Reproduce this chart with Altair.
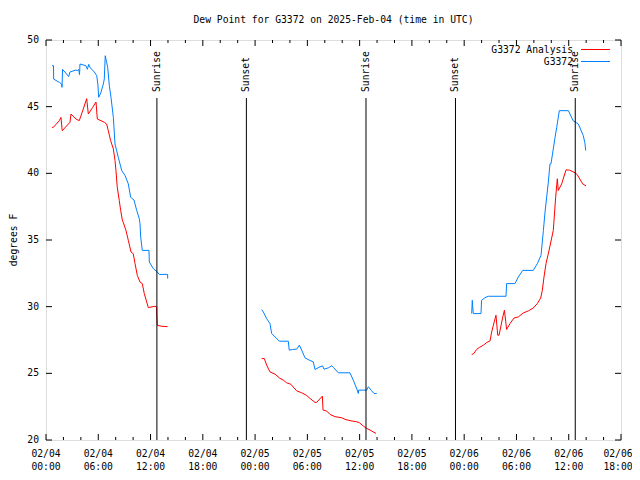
import altair as alt
import pandas as pd

FONT = "DejaVu Sans Mono"
FS = 9.7

# ---- data (hours after 2025-02-04 00:00 UTC, dew point in °F) ----
an1_h = [0.69, 0.84, 1.53, 1.72, 1.84, 1.87, 2.75, 2.87, 3.44, 3.82, 4.28, 4.67, 4.86, 5.36, 5.74, 5.89, 6.31,
         6.69, 6.96, 7.15, 7.42, 7.73, 7.92, 8.03, 8.18, 8.41, 8.57, 8.76, 8.88, 9.18, 9.45, 9.76, 10.02, 10.22,
         10.48, 10.79, 11.05, 11.28, 11.56, 11.74, 12.51, 12.7, 12.72, 12.78, 13.28, 13.96]
an1_v = [43.45, 43.45, 43.95, 44.2, 43.33, 43.2, 43.83, 44.45, 44.07, 43.95, 44.83, 45.6, 44.45, 44.95, 45.35, 44.07, 43.95,
         43.83, 43.7, 43.2, 42.45, 41.83, 40.96, 40.21, 38.96, 37.96, 37.22, 36.5, 36.3, 35.72, 34.97, 34.1, 33.97, 33.23,
         32.35, 31.85, 31.73, 30.98, 30.35, 29.93, 30.03, 29.98, 29.36, 28.6, 28.53, 28.5]

obs1_h = [0.69, 0.86, 0.88, 1.53, 1.8, 1.84, 1.9, 2.37, 2.6, 2.75, 3.44, 3.6, 3.75, 3.85, 3.9, 4.59, 4.75, 4.9, 5.1,
          5.55, 5.82, 5.95, 6.05, 6.31, 6.58, 6.69, 6.8, 6.96, 7.08, 7.27, 7.46, 7.73, 7.92, 8.3, 8.69, 9.07, 9.45,
          9.72, 10.1, 10.41, 10.71, 10.79, 10.87, 11.05, 11.82, 11.86, 12.32, 12.78, 13.0, 13.96, 13.97]
obs1_v = [48.07, 48.07, 47.07, 46.82, 46.7, 46.45, 47.8, 47.45, 47.25, 47.6, 47.75, 47.7, 47.8, 47.4, 48.2, 48.07, 47.8,
          48.17, 47.9, 47.6, 47.33, 46.7, 45.7, 46.07, 46.7, 47.07, 48.82, 48.32, 47.95, 46.57, 45.7, 44.2, 42.2, 41.2,
          40.21, 39.84, 39.2, 38.2, 38.0, 37.22, 36.59, 36.22, 35.22, 34.22, 34.22, 33.35, 32.85, 32.6, 32.42, 32.42, 32.1]

an2_h = [24.76, 25.06, 25.33, 25.71, 26.29, 26.86, 27.24, 27.62, 28.08, 28.77, 29.35, 29.92, 30.3, 30.88, 31.07,
         31.72, 31.8, 32.22, 32.6, 33.17, 33.94, 34.32, 34.89, 35.66, 35.96, 36.42, 36.8, 37.19, 37.57, 37.88]
an2_v = [26.11, 26.11, 25.61, 25.11, 24.94, 24.62, 24.49, 24.29, 24.19, 23.69, 23.54, 23.34, 23.12, 22.82, 22.82,
         23.29, 22.25, 22.17, 21.92, 21.75, 21.67, 21.55, 21.45, 21.37, 21.3, 21.05, 20.87, 20.75, 20.6, 20.5]

obs2_h = [24.76, 24.95, 25.33, 25.71, 25.9, 26.29, 26.78, 27.81, 27.92, 28.31, 28.77, 29.08, 29.35, 29.73, 30.22,
          30.68, 30.88, 31.45, 31.75, 31.91, 32.4, 32.79, 33.0, 33.55, 34.89, 35.27, 35.73, 35.85, 35.88, 36.8, 37.0,
          37.38, 37.65, 37.96]
obs2_v = [29.78, 29.6, 29.1, 28.73, 27.99, 27.73, 27.41, 27.41, 26.74, 26.79, 26.81, 27.11, 26.74, 26.16, 25.99,
          25.86, 25.29, 25.49, 25.56, 25.31, 25.41, 25.56, 25.44, 25.04, 25.04, 24.49, 23.74, 23.49, 23.74, 23.74, 23.99,
          23.69, 23.49, 23.49]

an3_h = [48.86, 49.1, 49.43, 49.74, 50.2, 50.58, 50.96, 51.16, 51.35, 51.65, 51.85, 52.0, 52.2, 52.43, 52.62, 52.87,
         53.26, 53.72, 54.21, 54.79, 55.36, 55.93, 56.39, 56.78, 56.97, 57.16, 57.39, 57.7, 58.23, 58.5, 58.69, 58.8,
         59.19, 59.69, 60.1, 60.72, 60.98, 61.6, 61.98]
an3_v = [26.41, 26.48, 26.79, 26.94, 27.11, 27.31, 27.43, 28.11, 28.61, 29.36, 27.86, 27.86, 28.48, 29.23, 29.73, 28.29,
         28.73, 29.15, 29.23, 29.53, 29.68, 29.9, 30.23, 30.65, 31.23, 32.22, 33.22, 34.1, 35.72, 38.21, 39.59, 38.71,
         39.21, 40.26, 40.24, 40.04, 39.9, 39.21, 39.06]

obs3_h = [48.86, 48.93, 48.98, 49.05, 49.93, 50.0, 50.39, 50.77, 52.8, 52.87, 53.83, 54.21, 54.72, 55.93, 56.39,
          56.82, 57.09, 57.28, 57.66, 57.85, 57.97, 58.43, 58.62, 58.92, 59.96, 60.5, 61.1, 61.67, 61.85, 61.95]
obs3_v = [29.48, 30.48, 29.98, 29.48, 29.48, 30.48, 30.68, 30.78, 30.78, 31.73, 31.73, 32.22, 32.72, 32.72, 33.22,
          33.85, 35.72, 37.09, 39.34, 40.71, 40.73, 42.7, 43.45, 44.7, 44.7, 43.95, 43.7, 42.83, 42.3, 41.71]

sun_h = [12.73, 23.0, 36.73, 47.0, 60.75]
sun_labels = ["Sunrise", "Sunset", "Sunrise", "Sunset", "Sunrise"]

series_names = ["G3372 Analysis", "G3372"]
series_colors = ["#ff0000", "#0080ff"]

major_h = list(range(0, 67, 6))
minor_h = [h for h in range(0, 67, 2) if h % 6 != 0]
y_ticks = [20, 25, 30, 35, 40, 45, 50]
title_text = "Dew Point for G3372 on 2025-Feb-04 (time in UTC)"
y_title = "degrees F"

# ---- build tables ----
START_TS = pd.Timestamp("2025-02-04T00:00:00Z")
START = START_TS.value // 10**6
HOUR = 3600 * 1000
W, H = 575, 400


def ms(h):
    return START + int(round(h * HOUR))


rows = []
for name, seg, hs, vs in [
    ("G3372 Analysis", 1, an1_h, an1_v), ("G3372 Analysis", 2, an2_h, an2_v), ("G3372 Analysis", 3, an3_h, an3_v),
    ("G3372", 1, obs1_h, obs1_v), ("G3372", 2, obs2_h, obs2_v), ("G3372", 3, obs3_h, obs3_v),
]:
    for i, (h, v) in enumerate(zip(hs, vs)):
        rows.append({"series": name, "seg": f"{name}-{seg}", "t": ms(h), "v": v, "o": i})
df = pd.DataFrame(rows)

# legend sample lines: short strokes in the top-right corner (placed via the chart's own scales)
leg_x = [535 / W * 66, 564 / W * 66]          # hours spanned by the sample stroke
leg_rows_px = [9.5, 21.5]                      # row centres, px below top of plot
leg_pts = []
for name, py in zip(series_names, leg_rows_px):
    vv = 50 - py * 30 / H
    for j, hx in enumerate(leg_x):
        leg_pts.append({"series": name, "t": ms(hx), "v": vv, "o": j})
leg_df = pd.DataFrame(leg_pts)

sun = pd.DataFrame({"t": [ms(h) for h in sun_h], "label": sun_labels})
major_ts = [START_TS + pd.Timedelta(hours=h) for h in major_h]
majors = pd.DataFrame({
    "t": [ms(h) for h in major_h],
    "d": [ts.strftime("%m/%d") for ts in major_ts],
    "hm": [ts.strftime("%H:%M") for ts in major_ts],
})
minors = pd.DataFrame({"t": [ms(h) for h in minor_h]})
yt = pd.DataFrame({"v": y_ticks, "lab": [str(v) for v in y_ticks]})

xscale = alt.Scale(type="utc", domain=[ms(0), ms(66)])
yscale = alt.Scale(domain=[20, 50], nice=False, zero=False)
cscale = alt.Scale(domain=series_names, range=series_colors)


def X():
    return alt.X("t:T", scale=xscale, axis=None)


def Y():
    return alt.Y("v:Q", scale=yscale, axis=None)


TXT = dict(font=FONT, fontSize=FS, color="black")

lines = alt.Chart(df).mark_line(strokeWidth=1, interpolate="linear").encode(
    x=X(), y=Y(),
    color=alt.Color("series:N", scale=cscale, legend=None),
    detail="seg:N",
    order="o:Q",
)

leg_lines = alt.Chart(leg_df).mark_line(strokeWidth=1).encode(
    x=X(), y=Y(),
    color=alt.Color("series:N", scale=cscale, legend=None),
    detail="series:N",
    order="o:Q",
)
leg_text = alt.Chart(pd.DataFrame({"series": series_names, "py": [10, 22]})).mark_text(
    align="right", baseline="middle", **TXT).encode(
    x=alt.value(527),
    y=alt.Y("py:Q", scale=None, axis=None),
    text="series:N",
)

sun_rules = alt.Chart(sun).mark_rule(color="black", strokeWidth=1).encode(
    x=X(), y=alt.value(58), y2=alt.value(400)
)
sun_text = alt.Chart(sun).mark_text(angle=270, align="left", baseline="middle", **TXT).encode(
    x=X(), y=alt.value(52), text="label:N")

tick_layers = []
for data, length in [(majors, 6), (minors, 3)]:
    tick_layers.append(alt.Chart(data).mark_rule(color="black").encode(
        x=X(), y=alt.value(400), y2=alt.value(400 - length)))
    tick_layers.append(alt.Chart(data).mark_rule(color="black").encode(
        x=X(), y=alt.value(0), y2=alt.value(length)))
tick_layers.append(alt.Chart(yt).mark_rule(color="black").encode(y=Y(), x=alt.value(0), x2=alt.value(6)))
tick_layers.append(alt.Chart(yt).mark_rule(color="black").encode(y=Y(), x=alt.value(575), x2=alt.value(569)))

xlab_layers = []
for part, shift in [(majors.iloc[:-1], 0), (majors.iloc[-1:], -3)]:
    xlab_layers.append(alt.Chart(part).mark_text(baseline="middle", align="center", dx=shift, **TXT).encode(
        x=X(), y=alt.value(413.7), text="d:N"))
    xlab_layers.append(alt.Chart(part).mark_text(baseline="middle", align="center", dx=shift, **TXT).encode(
        x=X(), y=alt.value(427), text="hm:N"))

ylab = alt.Chart(yt).mark_text(baseline="middle", align="right", **TXT).encode(
    y=Y(), x=alt.value(-7), text="lab:N")
ytitle = alt.Chart(pd.DataFrame({"s": [y_title]})).mark_text(
    angle=270, baseline="middle", align="center", **TXT).encode(x=alt.value(-32), y=alt.value(200), text="s:N")

title = alt.Chart(pd.DataFrame({"s": [title_text]})).mark_text(
    baseline="middle", align="center", **TXT).encode(x=alt.value(287.5), y=alt.value(-20), text="s:N")

chart = alt.layer(lines, leg_lines, sun_rules, sun_text, *tick_layers, *xlab_layers, ylab, ytitle,
                  title, leg_text).properties(
    width=W, height=H,
    autosize=alt.AutoSizeParams(type="none"),
    padding={"left": 38, "top": 32, "right": 11, "bottom": 32},
).configure_view(stroke="black", strokeWidth=1).configure(background="white")

chart.save("out.html", embed_options={"renderer": "svg", "actions": False})
